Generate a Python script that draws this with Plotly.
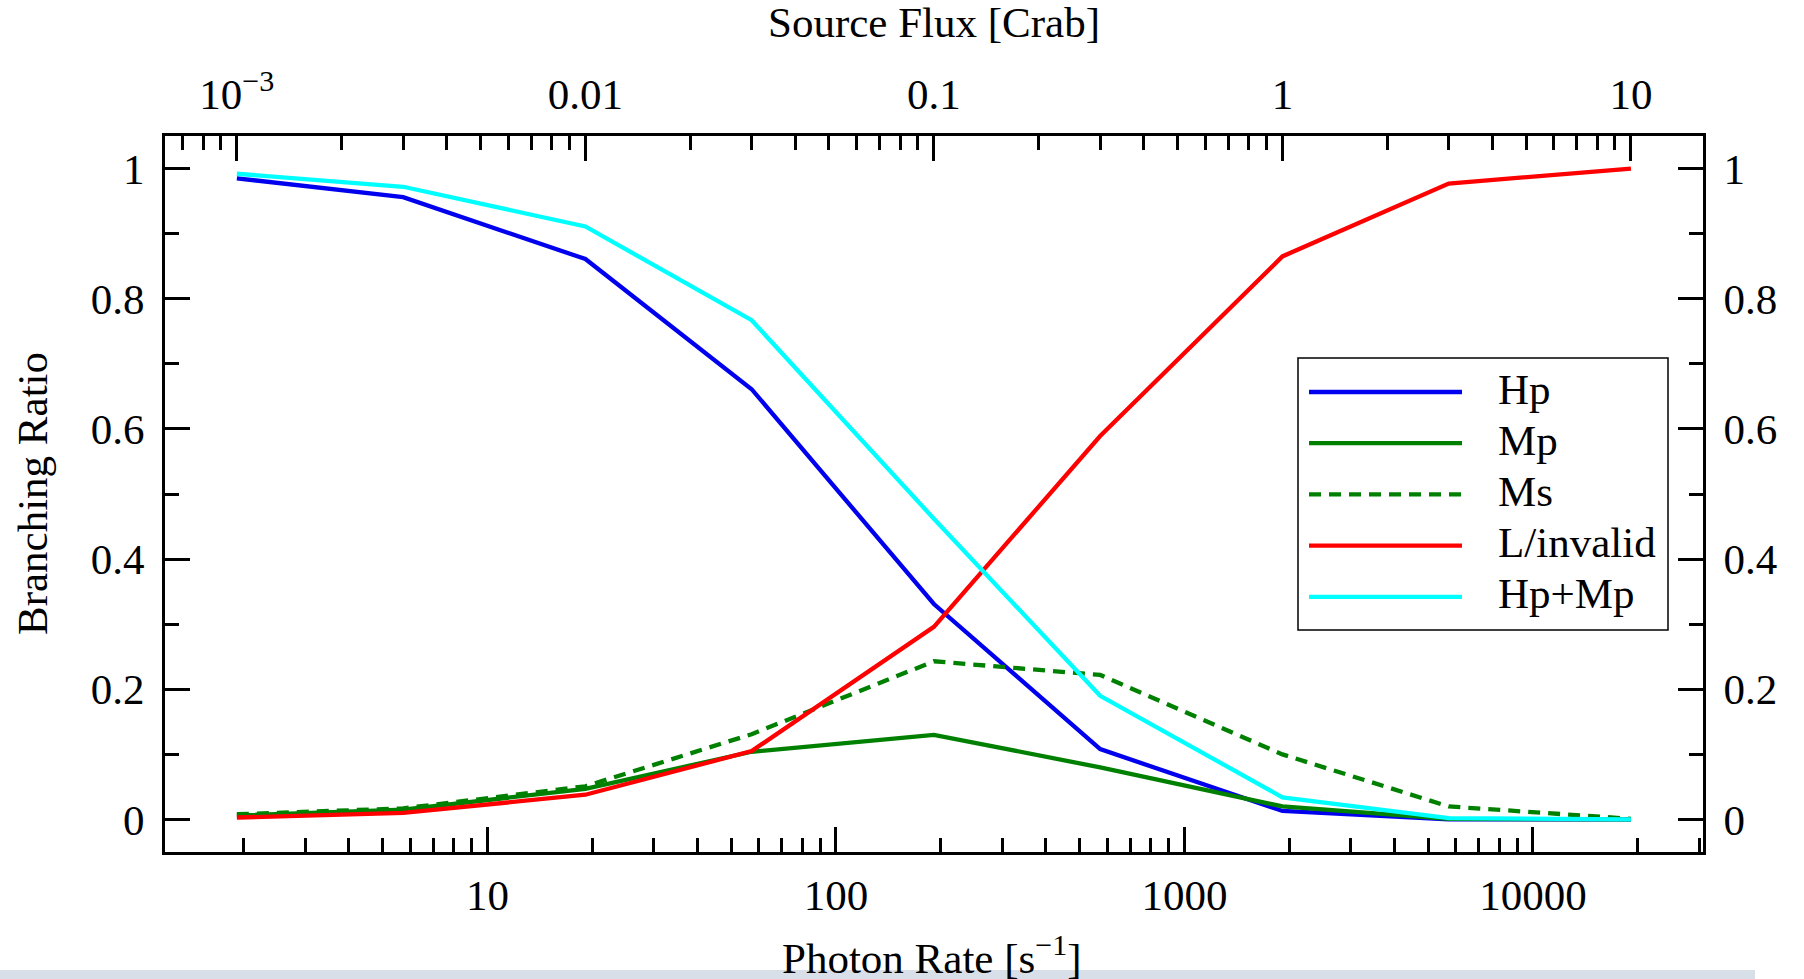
import math
import plotly.graph_objects as go

# Source flux grid (Crab) and branching ratios of each event grade
flux_crab = [1e-3, 3e-3, 0.01, 0.03, 0.1, 0.3, 1, 3, 10]
hp = [0.985, 0.956, 0.861, 0.661, 0.331, 0.108, 0.013, 0.0, 0.0]
mp = [0.006, 0.015, 0.047, 0.104, 0.130, 0.080, 0.020, 0.001, 0.0]
ms = [0.008, 0.017, 0.051, 0.131, 0.243, 0.222, 0.100, 0.020, 0.001]
l_invalid = [0.003, 0.010, 0.038, 0.105, 0.296, 0.589, 0.865, 0.977, 1.0]
hp_mp = [0.992, 0.972, 0.911, 0.767, 0.462, 0.190, 0.034, 0.002, 0.0]

series_names = ["Hp", "Mp", "Ms", "L/invalid", "Hp+Mp"]
series_values = [hp, mp, ms, l_invalid, hp_mp]
series_colors = ["#0000ee", "#008000", "#008000", "#ff0000", "#00ffff"]
series_dash = ["solid", "solid", "12px,8px", "solid", "solid"]

CRAB_RATE = 1910.0          # photons per second for 1 Crab
FLUX_LIMITS = (6.22e-4, 16.1)

top_tickvals = [1e-3, 0.01, 0.1, 1, 10]
top_ticktext = ["10<sup>\u22123</sup>", "0.01", "0.1", "1", "10"]
bottom_tickvals = [10, 100, 1000, 10000]
bottom_ticktext = ["10", "100", "1000", "10000"]
y_tickvals = [0, 0.2, 0.4, 0.6, 0.8, 1]
y_ticktext = ["0", "0.2", "0.4", "0.6", "0.8", "1"]
y_minor = [0.1, 0.3, 0.5, 0.7, 0.9]

rate = [f * CRAB_RATE for f in flux_crab]
rate_limits = (FLUX_LIMITS[0] * CRAB_RATE, FLUX_LIMITS[1] * CRAB_RATE)


def log_minor(lo, hi):
    vals = []
    for d in range(math.floor(math.log10(lo)) - 1, math.ceil(math.log10(hi)) + 1):
        for m in range(2, 10):
            v = m * 10.0 ** d
            if lo <= v <= hi:
                vals.append(v)
    return vals


# Figure geometry (pixels)
W, H = 1804, 979
ML, MR, MT, MB = 165, 101, 136, 127
PW, PH = W - ML - MR, H - MT - MB


def px(x):
    return (x - ML) / PW


def py(y):
    return (H - MB - y) / PH


FONT = "Liberation Serif, Times New Roman, serif"
FS = 43
LW = 4.3

fig = go.Figure()
for name, vals, col, dash in zip(series_names, series_values, series_colors, series_dash):
    fig.add_trace(go.Scatter(
        x=rate, y=vals, mode="lines", name=name,
        line=dict(color=col, width=LW, dash=dash),
        showlegend=False, xaxis="x", yaxis="y",
    ))

# Empty traces so the flux axis (top) and mirrored ratio axis (right) are drawn
fig.add_trace(go.Scatter(x=[], y=[], xaxis="x2", yaxis="y", showlegend=False, hoverinfo="skip"))
fig.add_trace(go.Scatter(x=[], y=[], xaxis="x", yaxis="y2", showlegend=False, hoverinfo="skip"))

axis_common = dict(
    showline=True, linecolor="black", linewidth=3,
    ticks="inside", ticklen=25, tickwidth=2.5, tickcolor="black",
    showgrid=False, zeroline=False,
    tickfont=dict(family=FONT, size=FS, color="black"),
)
minor_common = dict(ticks="inside", ticklen=14, tickwidth=2.5, tickcolor="black", showgrid=False)

fig.update_layout(
    width=W, height=H,
    margin=dict(l=ML, r=MR, t=MT, b=MB, pad=0),
    paper_bgcolor="white", plot_bgcolor="white",
    font=dict(family=FONT, size=FS, color="black"),
    showlegend=False,
    xaxis=dict(
        type="log", range=[math.log10(rate_limits[0]), math.log10(rate_limits[1])],
        tickmode="array", tickvals=bottom_tickvals, ticktext=bottom_ticktext,
        minor=dict(tickmode="array", tickvals=log_minor(*rate_limits), **minor_common),
        side="bottom", anchor="y", ticklabelstandoff=3,
        **axis_common,
    ),
    xaxis2=dict(
        type="log", range=[math.log10(FLUX_LIMITS[0]), math.log10(FLUX_LIMITS[1])],
        tickmode="array", tickvals=top_tickvals, ticktext=top_ticktext,
        minor=dict(tickmode="array", tickvals=log_minor(*FLUX_LIMITS), **minor_common),
        side="top", overlaying="x", anchor="y", ticklabelstandoff=7,
        **axis_common,
    ),
    yaxis=dict(
        range=[-0.05, 1.05],
        tickmode="array", tickvals=y_tickvals, ticktext=y_ticktext,
        minor=dict(tickmode="array", tickvals=y_minor, **minor_common),
        side="left", anchor="x", ticklabelstandoff=9,
        **axis_common,
    ),
    yaxis2=dict(
        range=[-0.05, 1.05],
        tickmode="array", tickvals=y_tickvals, ticktext=y_ticktext,
        minor=dict(tickmode="array", tickvals=y_minor, **minor_common),
        side="right", overlaying="y", anchor="x", ticklabelstandoff=9,
        **axis_common,
    ),
)

# Axis titles
fig.add_annotation(text="Source Flux [Crab]", xref="paper", yref="paper",
                   x=px(934), y=py(23), showarrow=False,
                   font=dict(family=FONT, size=FS), xanchor="center", yanchor="middle")
fig.add_annotation(text="Photon Rate [s<sup>\u22121</sup>]", xref="paper", yref="paper",
                   x=px(932), y=py(955), showarrow=False,
                   font=dict(family=FONT, size=FS), xanchor="center", yanchor="middle")
fig.add_annotation(text="Branching Ratio", xref="paper", yref="paper",
                   x=px(32), y=py(494), showarrow=False, textangle=-90,
                   font=dict(family=FONT, size=FS), xanchor="center", yanchor="middle")

# Legend box drawn with long line samples
box_l, box_r, box_t, box_b = 1298, 1668, 358, 630
fig.add_shape(type="rect", xref="paper", yref="paper",
              x0=px(box_l), x1=px(box_r), y0=py(box_b), y1=py(box_t),
              line=dict(color="black", width=1.5), fillcolor="white", layer="above")
row_y0, row_step = 392, 51.2
for i, (name, col, dash) in enumerate(zip(series_names, series_colors, series_dash)):
    yy = row_y0 + i * row_step
    fig.add_shape(type="line", xref="paper", yref="paper",
                  x0=px(1309), x1=px(1462), y0=py(yy), y1=py(yy),
                  line=dict(color=col, width=LW, dash=dash), layer="above")
    fig.add_annotation(text=name, xref="paper", yref="paper",
                       x=px(1496), y=py(yy - 3), showarrow=False,
                       font=dict(family=FONT, size=FS), xanchor="left", yanchor="middle")

# Pale strip along the bottom edge of the page
fig.add_shape(type="rect", xref="paper", yref="paper",
              x0=px(0), x1=px(1755), y0=py(985), y1=py(970),
              line=dict(width=0), fillcolor="#d9dfe9", layer="above")

fig.write_html("out.html")
